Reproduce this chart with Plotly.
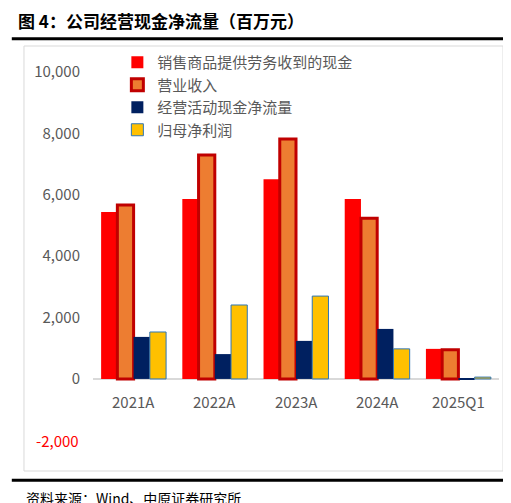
import plotly.graph_objects as go

cats = ["2021A", "2022A", "2023A", "2024A", "2025Q1"]
sales_cash = [5440, 5860, 6510, 5860, 980]
revenue = [5670, 7300, 7820, 5240, 950]
op_cf = [1370, 810, 1240, 1630, -20]
net_profit = [1530, 2410, 2700, 980, 60]

fig = go.Figure()
fig.add_bar(x=cats, y=sales_cash, name="销售商品提供劳务收到的现金", marker=dict(color="#ff0000", line=dict(width=0)))
fig.add_bar(x=cats, y=revenue, name="营业收入", marker=dict(color="#ed7d31", line=dict(color="#c00000", width=3)))
fig.add_bar(x=cats, y=op_cf, name="经营活动现金净流量", marker=dict(color="#002060", line=dict(width=0)))
fig.add_bar(x=cats, y=net_profit, name="归母净利润", marker=dict(color="#ffc000", line=dict(color="#2e75b6", width=1)))

tickvals = [0, 2000, 4000, 6000, 8000, 10000]
ticktext = ["0", "2,000", "4,000", "6,000", "8,000", "10,000"]

fig.update_layout(
    width=511, height=503,
    margin=dict(l=85, r=20, t=38, b=40),
    paper_bgcolor="white", plot_bgcolor="white",
    font=dict(family="Noto Sans CJK SC", size=14, color="#595959"),
    barmode="group", bargap=0.2, bargroupgap=0,
    legend=dict(x=0.06, y=1.0, xanchor="left", yanchor="top", bgcolor="rgba(0,0,0,0)",
                font=dict(size=15, color="#595959"), tracegroupgap=0, itemwidth=30),
    xaxis=dict(showgrid=False, showline=False, ticks="", showticklabels=False),
    yaxis=dict(range=[-3000, 10850], tickvals=tickvals, ticktext=ticktext, showgrid=False,
               zeroline=True, zerolinecolor="#d9d9d9", zerolinewidth=1.5, tickfont=dict(size=15),
               ticklabelstandoff=12),
    showlegend=True,
)

# category labels just under the zero line
for c in cats:
    fig.add_annotation(text=c, x=c, y=-750, xref="x", yref="y", showarrow=False,
                       font=dict(size=15, color="#595959"))
fig.add_annotation(text="-2,000", x=0, y=-2000, xref="paper", yref="y", xanchor="right",
                   xshift=-12, showarrow=False, font=dict(size=15, color="#ff0000"))

# frame, rules, title and source
fig.add_shape(type="rect", xref="paper", yref="paper", x0=-0.17, x1=1.01, y0=0.0, y1=1.0,
              line=dict(color="#d9d9d9", width=1))
fig.add_shape(type="line", xref="paper", yref="paper", x0=-0.2, x1=1.03, y0=1.017, y1=1.017,
              line=dict(color="black", width=3))
fig.add_shape(type="line", xref="paper", yref="paper", x0=-0.2, x1=1.03, y0=-0.022, y1=-0.022,
              line=dict(color="black", width=3))
fig.add_annotation(text="<b>图 4：公司经营现金净流量（百万元）</b>", xref="paper", yref="paper",
                   x=-0.19, y=1.025, xanchor="left", yanchor="bottom", showarrow=False,
                   font=dict(size=17, color="black", family="Noto Sans CJK SC"))
fig.add_annotation(text="资料来源：Wind、中原证券研究所", xref="paper", yref="paper",
                   x=-0.17, y=-0.035, xanchor="left", yanchor="top", showarrow=False,
                   font=dict(size=14, color="black", family="Noto Sans CJK SC"))

fig.write_html("out.html")
